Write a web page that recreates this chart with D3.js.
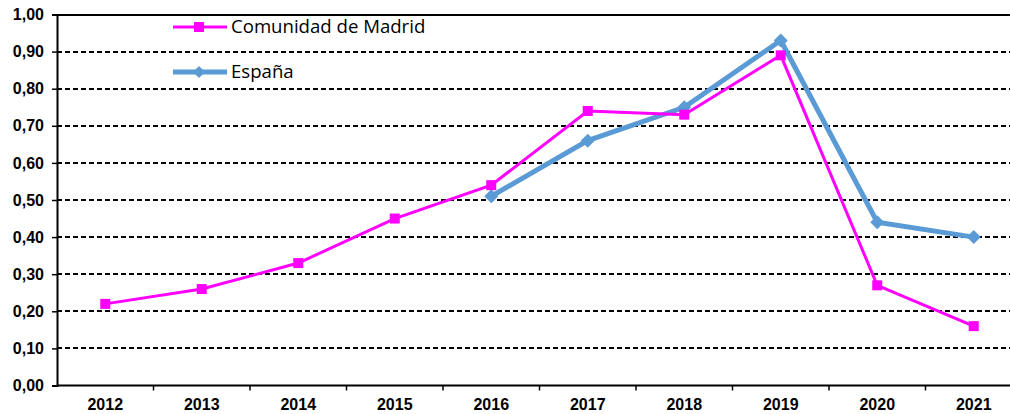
<!DOCTYPE html>
<meta charset="utf-8">
<script src="https://cdn.jsdelivr.net/npm/d3@7"></script>
<style>
  body { margin: 0; background: #fff; }
  .legend text { font: 18.6px "Open Sans", "Noto Sans", sans-serif; fill: #000; }
</style>
<body>
<script>
  var years = ["2012", "2013", "2014", "2015", "2016", "2017", "2018", "2019", "2020", "2021"];
  var madrid = [0.22, 0.26, 0.33, 0.45, 0.54, 0.74, 0.73, 0.89, 0.27, 0.16];
  var espana = [null, null, null, null, 0.51, 0.66, 0.75, 0.93, 0.44, 0.40];
  var yTicks = [0, 0.1, 0.2, 0.3, 0.4, 0.5, 0.6, 0.7, 0.8, 0.9, 1.0];

  var width = 1010, height = 414;
  var plotLeft = 57, plotRight = 1022, plotTop = 14.5, plotBottom = 385.5;

  var svg = d3.select("body").append("svg")
    .attr("width", width)
    .attr("height", height);

  var x = d3.scaleBand().domain(years).range([plotLeft, plotRight]);
  var y = d3.scaleLinear().domain([0, 1]).range([plotBottom, plotTop]);

  // gridlines
  svg.append("g")
    .selectAll("line")
    .data(yTicks.filter(function (d) { return d > 0; }))
    .enter().append("line")
    .attr("x1", plotLeft).attr("x2", plotRight)
    .attr("y1", function (d) { return Math.round(y(d)); })
    .attr("y2", function (d) { return Math.round(y(d)); })
    .attr("stroke", "#000")
    .attr("stroke-width", 2)
    .attr("stroke-dasharray", function (d) { return d == 1 ? null : "5,3"; });

  // y axis
  var yAxis = svg.append("g")
    .attr("transform", "translate(" + plotLeft + ",0)")
    .call(d3.axisLeft(y).tickValues(yTicks).tickSize(5).tickPadding(8)
      .tickFormat(function (d) { return d3.format(".2f")(d).replace(".", ","); }));
  yAxis.select(".domain").attr("stroke-width", 2);
  yAxis.selectAll(".tick line").attr("stroke-width", 1.5);

  // x axis
  var xAxis = svg.append("g")
    .attr("transform", "translate(0," + plotBottom + ")")
    .call(d3.axisBottom(x).tickSize(0).tickPadding(13));
  xAxis.select(".domain").attr("stroke-width", 2).attr("d", "M" + plotLeft + ",0H" + plotRight);
  xAxis.selectAll(".sep")
    .data(years.slice(1))
    .enter().append("line")
    .attr("class", "sep")
    .attr("x1", function (d) { return x(d); })
    .attr("x2", function (d) { return x(d); })
    .attr("y1", 0).attr("y2", 5)
    .attr("stroke", "#000").attr("stroke-width", 1.5);

  svg.selectAll(".tick text")
    .attr("font-family", "'Liberation Sans', Arial, sans-serif")
    .attr("font-weight", "bold")
    .attr("font-size", 16)
    .attr("fill", "#000");

  var cx = function (d, i) { return x(years[i]) + x.bandwidth() / 2; };
  var diamond = "M0,-7L7,0L0,7L-7,0Z";

  // España
  var esLine = d3.line()
    .defined(function (d) { return d != null; })
    .x(cx).y(function (d) { return y(d); });
  svg.append("path")
    .datum(espana)
    .attr("d", esLine)
    .attr("fill", "none")
    .attr("stroke", "#5b9bd5")
    .attr("stroke-width", 5);
  svg.append("g").selectAll("path")
    .data(espana.map(function (d, i) { return { v: d, i: i }; }).filter(function (d) { return d.v != null; }))
    .enter().append("path")
    .attr("d", diamond)
    .attr("transform", function (d) { return "translate(" + cx(d.v, d.i) + "," + y(d.v) + ")"; })
    .attr("fill", "#5b9bd5");

  // Madrid
  var mdLine = d3.line().x(cx).y(function (d) { return y(d); });
  svg.append("path")
    .datum(madrid)
    .attr("d", mdLine)
    .attr("fill", "none")
    .attr("stroke", "#ff00ff")
    .attr("stroke-width", 3);
  svg.append("g").selectAll("rect")
    .data(madrid)
    .enter().append("rect")
    .attr("x", function (d, i) { return cx(d, i) - 5; })
    .attr("y", function (d) { return y(d) - 5; })
    .attr("width", 10).attr("height", 10)
    .attr("fill", "#ff00ff");

  // legend
  var legend = svg.append("g").attr("class", "legend");
  legend.append("line").attr("x1", 173).attr("x2", 227).attr("y1", 27).attr("y2", 27)
    .attr("stroke", "#ff00ff").attr("stroke-width", 3);
  legend.append("rect").attr("x", 194).attr("y", 22).attr("width", 10).attr("height", 10)
    .attr("fill", "#ff00ff");
  legend.append("text").attr("x", 231).attr("y", 33).text("Comunidad de Madrid");

  legend.append("line").attr("x1", 173).attr("x2", 227).attr("y1", 72).attr("y2", 72)
    .attr("stroke", "#5b9bd5").attr("stroke-width", 5);
  legend.append("path").attr("d", "M0,-6L6,0L0,6L-6,0Z")
    .attr("transform", "translate(199,72)").attr("fill", "#5b9bd5");
  legend.append("text").attr("x", 231).attr("y", 78).text("España");
</script>
</body>
